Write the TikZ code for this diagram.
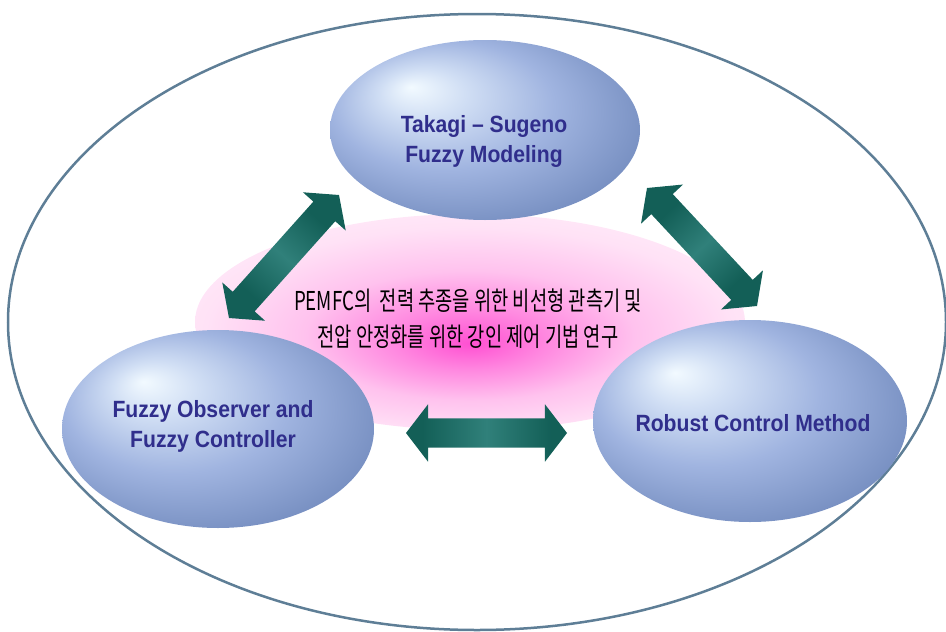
\documentclass[tikz,border=0pt]{standalone}
\usepackage{fontspec}
\setmainfont{Liberation Sans}[FakeStretch=0.9]
\newfontfamily\kr{Noto Sans CJK KR}[FakeStretch=0.72]
\usetikzlibrary{shapes.geometric,shapes.arrows,calc}
\definecolor{rim}{HTML}{5E7E96}
\definecolor{navy}{HTML}{302E8C}
\definecolor{hl}{HTML}{F2FAFF}
\definecolor{sc1}{HTML}{D0DEF4}
\definecolor{sc2}{HTML}{A0B4E0}
\definecolor{sc3}{HTML}{7890C2}
\definecolor{sc4}{HTML}{4A6292}
\definecolor{pk0}{HTML}{FF50D2}
\definecolor{pk1}{HTML}{FF88E0}
\definecolor{pk2}{HTML}{FFC2EE}
\definecolor{pk3}{HTML}{FFE2F6}
\definecolor{pk4}{HTML}{FFF0FA}
\definecolor{ad}{HTML}{135F57}
\definecolor{al}{HTML}{30807A}
\pgfdeclareradialshading{sphere}{\pgfpoint{-12bp}{12bp}}{color(0bp)=(hl); color(7bp)=(sc1); color(18bp)=(sc2); color(30bp)=(sc3); color(42bp)=(sc4)}
\pgfdeclareradialshading{pinkglow}{\pgfpoint{0bp}{-5bp}}{color(0bp)=(pk0); color(7bp)=(pk1); color(15bp)=(pk2); color(24bp)=(pk3); color(33bp)=(pk4); color(40bp)=(white)}
\pgfdeclarehorizontalshading{arrsh}{100bp}{color(0bp)=(ad); color(30bp)=(ad); color(50bp)=(al); color(70bp)=(ad); color(100bp)=(ad)}
\tikzset{
  ball/.style={ellipse, inner sep=0pt, shading=sphere},
  lbl/.style={font=\bfseries\fontsize{23.5}{30}\selectfont, text=navy, align=center, inner sep=0pt},
  korean/.style={font=\kr\fontsize{26}{36}\selectfont, text=black, align=center, inner sep=0pt},
  blockarrow/.style={shape=double arrow, shading=arrsh, inner sep=0pt,
    text height=14.5pt, text depth=14.5pt, text width=0pt, minimum width=0pt,
    double arrow head extend=14pt, double arrow tip angle=105},
}
\begin{document}
\begin{tikzpicture}[x=1pt,y=-1pt]
\useasboundingbox (0,0) rectangle (946,632);
\draw[rim, line width=2.5pt] (477,322) ellipse [x radius=469, y radius=308];
\node[ellipse, inner sep=0pt, minimum width=550pt, minimum height=216pt, shading=pinkglow] (blob) at (470,322) {};
\node[korean] (title) at (468,319) {PEMFC의\ \ 전력 추종을 위한 비선형 관측기 및\\전압 안정화를 위한 강인 제어 기법 연구};
\node[ball, minimum width=310pt, minimum height=180pt] (top) at (485,130) {};
\node[ball, minimum width=312pt, minimum height=198pt] (left) at (218,429) {};
\node[ball, minimum width=314pt, minimum height=202pt] (right) at (750,421) {};
\node[lbl] (toplbl) at (484,141) {Takagi – Sugeno\\Fuzzy Modeling};
\node[lbl] (leftlbl) at (213,426) {Fuzzy Observer and\\Fuzzy Controller};
\node[lbl] (rightlbl) at (753,423) {Robust Control Method};
\coordinate (la) at (229,318);
\coordinate (lb) at (339,195);
\coordinate (ra) at (647,188);
\coordinate (rb) at (757,306);
\coordinate (ba) at (406,433);
\coordinate (bb) at (567,433);
\path let \p1=($(lb)-(la)$), \n1={atan2(\y1,\x1)}, \n2={veclen(\x1,\y1)} in
  node[blockarrow, rotate=\n1, shading angle=\n1, minimum height=\n2] (arrL) at ($(la)!0.5!(lb)$) {};
\path let \p1=($(rb)-(ra)$), \n1={atan2(\y1,\x1)}, \n2={veclen(\x1,\y1)} in
  node[blockarrow, rotate=\n1, shading angle=\n1, minimum height=\n2] (arrR) at ($(ra)!0.5!(rb)$) {};
\path let \p1=($(bb)-(ba)$), \n2={veclen(\x1,\y1)} in
  node[blockarrow, minimum height=\n2] (arrB) at ($(ba)!0.5!(bb)$) {};
\end{tikzpicture}
\end{document}
